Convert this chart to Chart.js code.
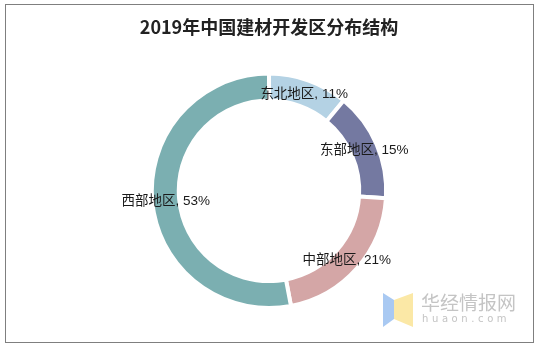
<!DOCTYPE html>
<html lang="zh">
<head>
  <meta charset="UTF-8">
  <title>2019年中国建材开发区分布结构</title>
  <script src="https://cdn.jsdelivr.net/npm/chart.js"></script>
  <style>
    body { margin: 0; background: #fff; }
    #wrap { position: relative; width: 538px; height: 348px; }
    #frame {
      position: absolute; left: 5px; top: 4px; width: 527px; height: 337px;
      border: 1px solid #7f7f7f; box-sizing: content-box;
    }
    #pieChart { position: absolute; left: 0; top: 0; }
    /* logo in the bottom right corner */
    #logo { position: absolute; left: 383px; top: 292px; width: 140px; height: 40px; }
    #logo .cn {
      position: absolute; left: 38px; top: 0px; font: 19px "Noto Sans CJK SC", sans-serif;
      color: #c4c4c4; letter-spacing: 0px; line-height: 20px;
    }
    #logo .en {
      position: absolute; left: 39px; top: 21px; font: 10px "DejaVu Sans", sans-serif;
      color: #c4c4c4; letter-spacing: 3.6px; line-height: 12px;
    }
  </style>
</head>
<body>
  <div id="wrap">
    <div id="frame"></div>
    <canvas id="pieChart" width="538" height="348"></canvas>
    <div id="logo">
      <svg width="32" height="36" style="position:absolute;left:0;top:0">
        <polygon points="0,1 11,8 11,27 0,35" fill="#a9c9f2"/>
        <polygon points="11,8 30,1 30,35 11,27" fill="#fbe8a6"/>
      </svg>
      <div class="cn">华经情报网</div>
      <div class="en">huaon.com</div>
    </div>
  </div>

  <script>
    const regions = ['东北地区', '东部地区', '中部地区', '西部地区'];
    const shares = [11, 15, 21, 53];
    const colors = ['#b4d2e4', '#7479a1', '#d4a6a6', '#7bafb1'];

    // writes "name, xx%" in the middle of every ring segment
    const sliceLabels = {
      id: 'sliceLabels',
      afterDatasetsDraw(chart) {
        const ctx = chart.ctx;
        const meta = chart.getDatasetMeta(0);
        ctx.save();
        ctx.font = '13.5px "Liberation Sans", "Noto Sans CJK SC", sans-serif';
        ctx.fillStyle = '#1a1a1a';
        ctx.textAlign = 'center';
        ctx.textBaseline = 'middle';
        meta.data.forEach((arc, i) => {
          const p = arc.tooltipPosition();
          ctx.fillText(regions[i] + ', ' + shares[i] + '%', p.x, p.y + 1);
        });
        ctx.restore();
      }
    };

    const ctx = document.getElementById('pieChart').getContext('2d');
    new Chart(ctx, {
      type: 'doughnut',
      data: {
        labels: regions,
        datasets: [{
          data: shares,
          backgroundColor: colors,
          borderColor: '#ffffff',
          borderWidth: 4,
          cutout: '77%'
        }]
      },
      options: {
        responsive: false,
        animation: false,
        layout: { padding: { top: 0, bottom: 38, left: 0, right: 0 } },
        plugins: {
          legend: { display: false },
          tooltip: { enabled: false },
          title: {
            display: true,
            text: '2019年中国建材开发区分布结构',
            color: '#222',
            font: { family: '"Noto Sans CJK SC", sans-serif', size: 18, weight: 'bold' },
            padding: { top: 16, bottom: 34 }
          }
        }
      },
      plugins: [sliceLabels]
    });
  </script>
</body>
</html>
